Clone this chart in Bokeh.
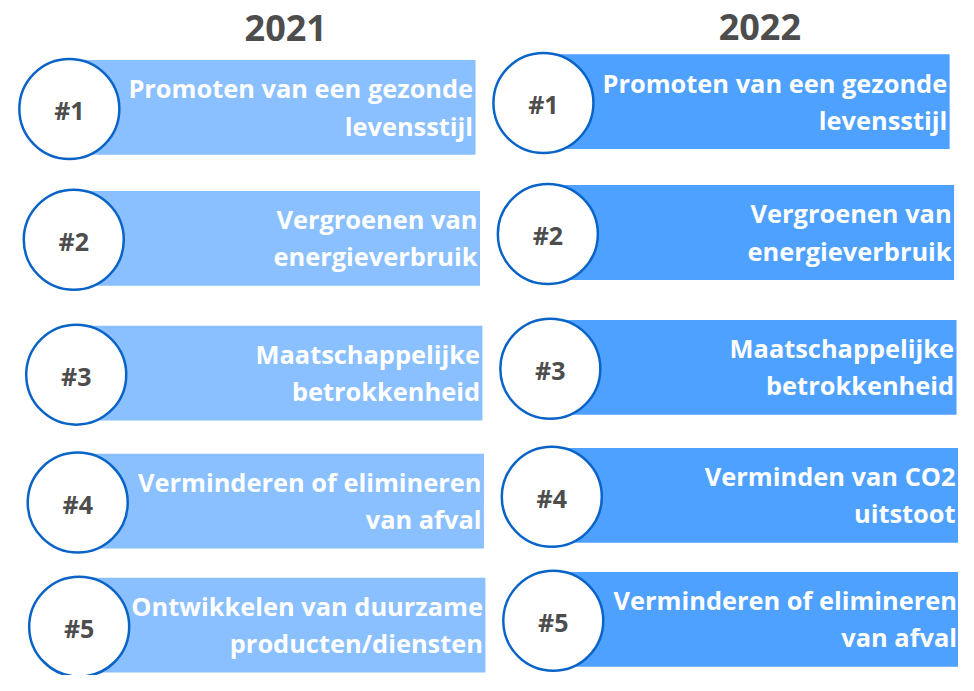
from bokeh.plotting import figure
from bokeh.core.properties import value
from bokeh.embed import file_html
from bokeh.resources import INLINE

# ---- data ----
years = ["2021", "2022"]
ranks = ["#1", "#2", "#3", "#4", "#5"]
labels_2021 = [
    "Promoten van een gezonde\nlevensstijl",
    "Vergroenen van\nenergieverbruik",
    "Maatschappelijke\nbetrokkenheid",
    "Verminderen of elimineren\nvan afval",
    "Ontwikkelen van duurzame\nproducten/diensten",
]
labels_2022 = [
    "Promoten van een gezonde\nlevensstijl",
    "Vergroenen van\nenergieverbruik",
    "Maatschappelijke\nbetrokkenheid",
    "Verminden van CO2\nuitstoot",
    "Verminderen of elimineren\nvan afval",
]

# ---- layout / style ----
col_cx0 = [70, 552]        # circle centre x of first row
col_top0 = [61, 55]        # bar top of first row
col_right0 = [483, 965]    # bar right edge of first row
title_y = [28, 27]
row_dy = [0, 134, 272, 403, 530]
row_dx = [0, 4.5, 7, 8.5, 10]
bar_h = 97
bar_colors = ["#8AC0FF", "#4EA1FF"]
ring_color = "#0A64C8"
dark = "#4D4D4D"
FONT = "Open Sans"

p = figure(width=958, height=675, x_range=(0, 974), y_range=(691, 0),
           output_backend="svg", toolbar_location=None, min_border=0)
p.axis.visible = False
p.grid.visible = False
p.outline_line_color = None
p.background_fill_color = "white"

all_labels = [labels_2021, labels_2022]
for c, yr in enumerate(years):
    labels = all_labels[c]
    left, right, top, bottom = [], [], [], []
    cx, cy = [], []
    l1x, l1y, l1t, l2x, l2y, l2t = [], [], [], [], [], []
    for i, lab in enumerate(labels):
        t = col_top0[c] + row_dy[i]
        x = col_cx0[c] + row_dx[i]
        r = col_right0[c] + row_dx[i]
        left.append(x); right.append(r); top.append(t); bottom.append(t + bar_h)
        cx.append(x); cy.append(t + 50)
        parts = lab.split("\n")
        l1x.append(r - 2.5); l1y.append(t + 29); l1t.append(parts[0])
        l2x.append(r - 2.5); l2y.append(t + 67); l2t.append(parts[1] if len(parts) > 1 else "")
    p.quad(left=left, right=right, top=top, bottom=bottom,
           fill_color=bar_colors[c], line_color=None)
    p.scatter(x=cx, y=cy, marker="circle", size=100, fill_color="white",
              line_color=ring_color, line_width=2.5)
    p.text(x=cx, y=[v + 1 for v in cy], text=ranks, text_align="center",
           text_baseline="middle", text_font=value(FONT), text_font_style="bold",
           text_font_size="25px", text_color=dark)
    for xs, ys, ts in ((l1x, l1y, l1t), (l2x, l2y, l2t)):
        p.text(x=xs, y=ys, text=ts, text_align="right", text_baseline="middle",
               text_font=value(FONT), text_font_style="bold",
               text_font_size="25.4px", text_color="white")
    p.text(x=[col_cx0[c] + 220], y=[title_y[c]], text=[yr],
           text_align="center", text_baseline="middle", text_font=value(FONT),
           text_font_style="bold", text_font_size="36px", text_color=dark)

open("out.html", "w").write(file_html(p, INLINE))
